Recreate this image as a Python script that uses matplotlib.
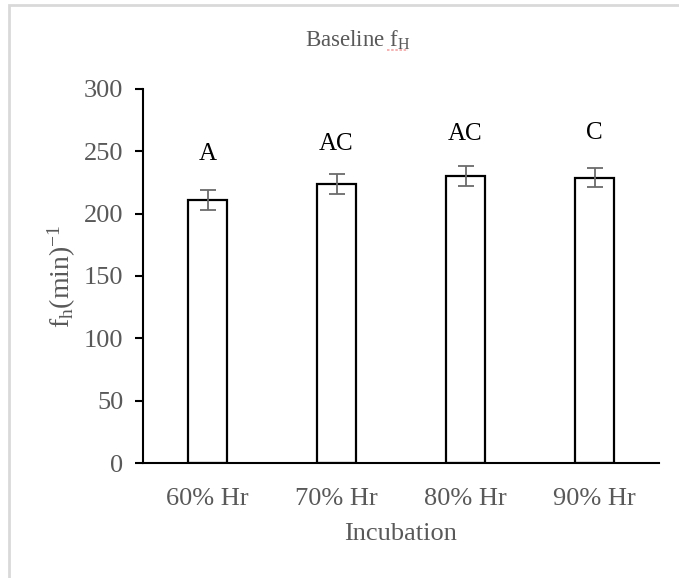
import matplotlib
matplotlib.use("Agg")
from matplotlib import pyplot as plt
from matplotlib.patches import Rectangle
from matplotlib.lines import Line2D

# data
groups = ["60% Hr", "70% Hr", "80% Hr", "90% Hr"]
fh = [211, 224, 230, 229]
err = [8, 8, 8, 8]
letters = ["A", "AC", "AC", "C"]
letter_y = [248, 256, 264, 265]

plt.rcParams["font.family"] = ["Liberation Serif", "DejaVu Serif"]
plt.rcParams["mathtext.fontset"] = "custom"
plt.rcParams["mathtext.rm"] = "Liberation Serif"
plt.rcParams["mathtext.it"] = "Liberation Serif"

grey = "#595959"

fig = plt.figure(figsize=(6.79, 5.78), dpi=100)
# light outer frame (chart area border)
fig.patches.append(Rectangle((9 / 679, -0.01), 1.0, 1 - 5 / 578 + 0.01,
                             transform=fig.transFigure, fill=False,
                             edgecolor="#d9d9d9", lw=2))

ax = fig.add_axes([143 / 679, 1 - 463 / 578, 516 / 679, 374 / 578])

x = range(len(groups))
ax.bar(x, fh, width=0.31, color="white", edgecolor="black", lw=1.6, zorder=2)
ax.errorbar(x, fh, yerr=err, fmt="none", ecolor="#6b6b6b", elinewidth=1.3,
            capsize=6, capthick=1.3, zorder=3)

for i, t in enumerate(letters):
    ax.text(i, letter_y[i], t, ha="center", va="center", fontsize=18, color="black")

ax.set_xlim(-0.5, 3.5)
ax.set_ylim(0, 300)
ax.set_yticks([0, 50, 100, 150, 200, 250, 300])
ax.set_xticks(list(x))
ax.set_xticklabels(groups)

for s in ["top", "right"]:
    ax.spines[s].set_visible(False)
ax.spines["left"].set_linewidth(1.5)
ax.spines["bottom"].set_linewidth(1.5)
ax.tick_params(axis="y", direction="out", length=6, width=1.5, labelsize=19,
               labelcolor=grey, pad=8)
ax.tick_params(axis="x", length=0, labelsize=19, labelcolor=grey, pad=18)

ax.set_xlabel("Incubation", fontsize=19, color=grey, labelpad=9)
ax.set_ylabel(r"$\mathrm{f_h(min)^{-1}}$", fontsize=20, color=grey, labelpad=4)
fig.text(358 / 679, 1 - 40 / 578, r"Baseline $\mathrm{f_H}$", ha="center",
         va="center", fontsize=16.5, color=grey)
# spell-check style underline under the subscript
fig.lines.append(Line2D([387 / 679, 408 / 679], [1 - 50 / 578, 1 - 50 / 578],
                        transform=fig.transFigure, color="#f2a6a6", lw=1.2,
                        ls=(0, (1.5, 1))))

fig.savefig("out.png", dpi=100)
